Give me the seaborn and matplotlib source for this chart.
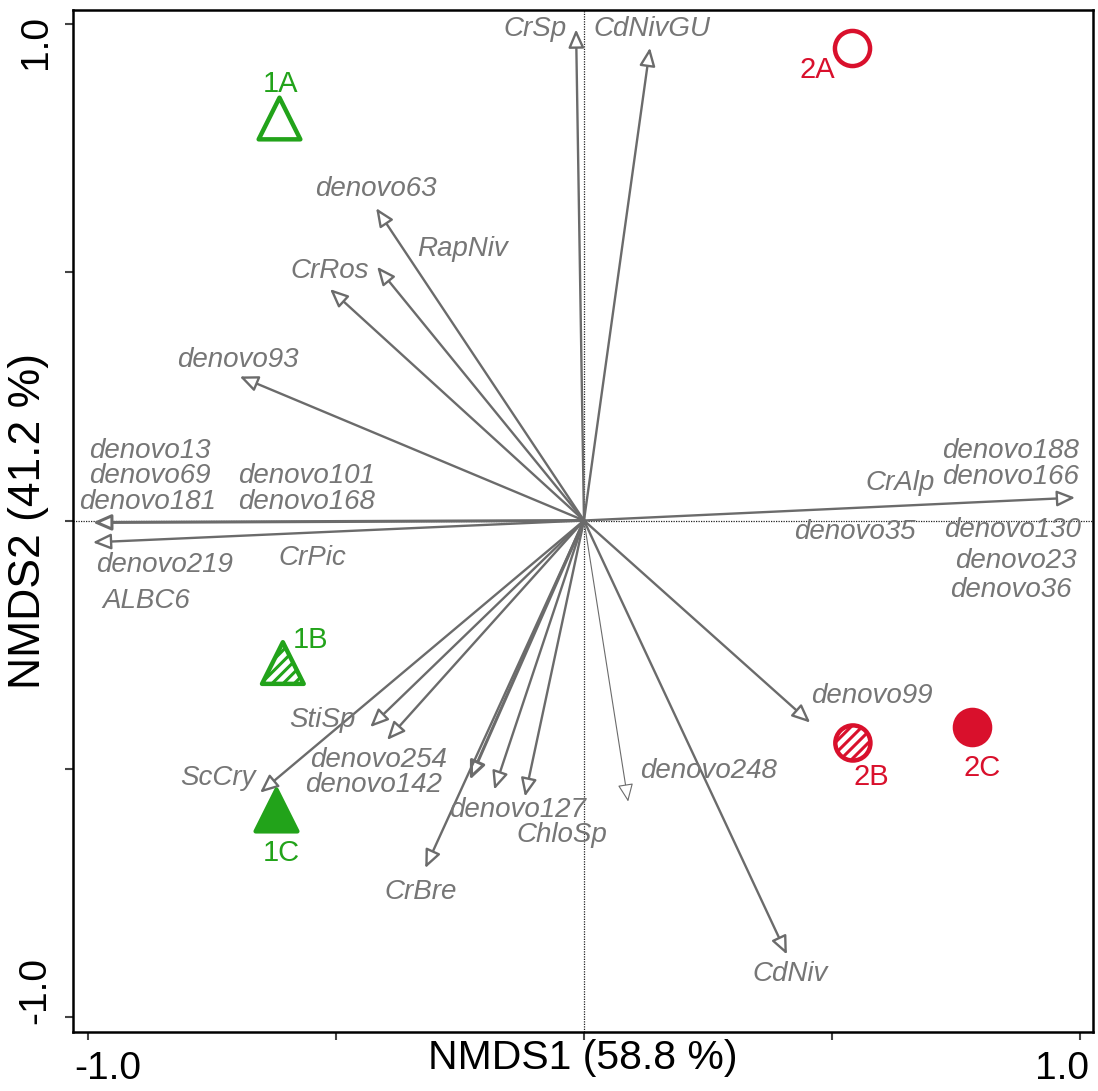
import matplotlib
matplotlib.use("Agg")
import matplotlib.pyplot as plt
import matplotlib.transforms as mtransforms
import pandas as pd
import seaborn as sns

# site scores (NMDS1, NMDS2)
sites = ["1A", "1B", "1C", "2A", "2B", "2C"]
site_x = [-0.615, -0.607, -0.621, 0.540, 0.542, 0.782]
site_y = [0.811, -0.287, -0.583, 0.952, -0.448, -0.416]
site_group = ["1", "1", "1", "2", "2", "2"]
site_fill = ["open", "hatch", "solid", "open", "hatch", "solid"]

# fitted species vectors (arrow tips)
vec_names = ["CrSp", "CdNivGU", "denovo63", "RapNiv", "CrRos", "denovo93",
             "denovo13", "denovo219", "CrAlp", "denovo99", "CdNiv", "denovo248",
             "ChloSp", "denovo127", "denovo142", "CrBre", "denovo254", "StiSp", "ScCry"]
vec_x = [-0.016, 0.133, -0.419, -0.417, -0.512, -0.694,
         -0.990, -0.990, 0.990, 0.456, 0.409, 0.089,
         -0.119, -0.181, -0.230, -0.320, -0.397, -0.431, -0.653]
vec_y = [0.989, 0.952, 0.629, 0.511, 0.466, 0.290,
         -0.004, -0.044, 0.046, -0.407, -0.874, -0.566,
         -0.556, -0.542, -0.522, -0.700, -0.442, -0.416, -0.548]

# species label placement
lab_text = ["CrSp", "CdNivGU", "denovo63", "RapNiv", "CrRos", "denovo93",
            "denovo13", "denovo69", "denovo181", "denovo101", "denovo168",
            "denovo219", "CrPic", "ALBC6",
            "denovo188", "denovo166", "CrAlp", "denovo35", "denovo130", "denovo23", "denovo36",
            "denovo99", "denovo248", "denovo127", "ChloSp", "denovo254", "denovo142",
            "StiSp", "ScCry", "CrBre", "CdNiv"]
lab_x = [-0.099, 0.137, -0.419, -0.244, -0.512, -0.697,
         -0.875, -0.875, -0.879, -0.560, -0.560,
         -0.845, -0.548, -0.883,
         0.859, 0.859, 0.637, 0.546, 0.863, 0.871, 0.861,
         0.581, 0.250, -0.135, -0.044, -0.415, -0.425,
         -0.528, -0.738, -0.329, 0.415]
lab_y = [0.989, 0.989, 0.667, 0.546, 0.502, 0.323,
         0.139, 0.089, 0.038, 0.089, 0.038,
         -0.089, -0.075, -0.163,
         0.139, 0.087, 0.075, -0.024, -0.020, -0.081, -0.139,
         -0.354, -0.505, -0.582, -0.634, -0.483, -0.532,
         -0.401, -0.518, -0.749, -0.914]

sites_df = pd.DataFrame({"NMDS1": site_x, "NMDS2": site_y, "site": sites,
                         "group": site_group, "fill": site_fill})
vec_df = pd.DataFrame({"name": vec_names, "NMDS1": vec_x, "NMDS2": vec_y})

green = "#22a31a"
red = "#d9102c"
grey = "#767676"

sns.set_theme(style="ticks")
plt.rcParams["font.family"] = ["Liberation Sans", "DejaVu Sans"]
plt.rcParams["hatch.linewidth"] = 2.2

fig = plt.figure(figsize=(10.98, 10.91), dpi=100)
ax = fig.add_axes([73 / 1098, 1 - 1032 / 1091, 1020 / 1098, 1022 / 1091])
ax.set_xlim(-1.030, 1.026)
ax.set_ylim(-1.030, 1.028)

ax.axhline(0, color="#222222", lw=0.9, ls=(0, (1, 1)), zorder=1)
ax.axvline(0, color="#222222", lw=0.9, ls=(0, (1, 1)), zorder=1)

# species arrows
lw_special = {"denovo248": 0.8, "denovo13": 2.2, "denovo142": 2.2}
for _, r in vec_df.iterrows():
    ax.annotate("", xy=(r.NMDS1, r.NMDS2), xytext=(0, 0),
                arrowprops=dict(arrowstyle="-|>,head_length=0.55,head_width=0.24",
                                mutation_scale=20, fc="white", ec="#6b6b6b",
                                lw=lw_special.get(r["name"], 1.7),
                                shrinkA=0, shrinkB=0),
                zorder=3)

for t, x, y in zip(lab_text, lab_x, lab_y):
    ax.text(x, y, t, fontsize=20, style="italic", color=grey,
            ha="center", va="center", zorder=4)

# sites
marker_of = {"1": "^", "2": "o"}
color_of = {"1": green, "2": red}
size_of = {"1": 900, "2": 640}
for _, r in sites_df.iterrows():
    col = color_of[r.group]
    face = col if r.fill == "solid" else "white"
    sns.scatterplot(x=[r.NMDS1], y=[r.NMDS2], marker=marker_of[r.group],
                    s=size_of[r.group], facecolor=face, edgecolor=col,
                    linewidth=3.2, ax=ax, zorder=5, legend=False)
    if r.fill == "hatch":
        ax.collections[-1].set_hatch("///")

site_lab_off = {"1A": (0.004, 0.067), "1B": (0.056, 0.046), "1C": (0.010, -0.087),
                "2A": (-0.070, -0.044), "2B": (0.038, -0.068), "2C": (0.020, -0.083)}
for _, r in sites_df.iterrows():
    dx, dy = site_lab_off[r.site]
    ax.text(r.NMDS1 + dx, r.NMDS2 + dy, r.site, fontsize=21,
            color=color_of[r.group], ha="center", va="center", zorder=6)

# axes styling
ax.set_xticks([-1, -0.5, 0, 0.5, 1])
ax.set_xticklabels(["-1.0", "", "", "", "1.0"])
ax.set_yticks([-1, -0.5, 0, 0.5, 1])
ax.set_yticklabels(["-1.0", "", "", "", "1.0"], rotation=90, va="center")
ax.tick_params(direction="out", length=6, width=1.5, color="#444444",
               labelsize=28, labelcolor="black", pad=8)
for s in ax.spines.values():
    s.set_color("black")
    s.set_linewidth(1.8)

shift = {"-1.0x": (0.20, 0), "1.0x": (-0.18, 0), "-1.0y": (0, 0.27), "1.0y": (0, -0.18)}
for lab in ax.get_xticklabels():
    key = lab.get_text() + "x"
    if key in shift:
        lab.set_transform(lab.get_transform() +
                          mtransforms.ScaledTranslation(*shift[key], fig.dpi_scale_trans))
for lab in ax.get_yticklabels():
    key = lab.get_text() + "y"
    if key in shift:
        lab.set_transform(lab.get_transform() +
                          mtransforms.ScaledTranslation(*shift[key], fig.dpi_scale_trans))

ax.set_xlabel("NMDS1 (58.8 %)", fontsize=29.5, color="black")
ax.set_ylabel("NMDS2 (41.2 %)", fontsize=32, color="black")
ax.xaxis.set_label_coords(0.5, -0.007)
ax.yaxis.set_label_coords(-0.024, 0.5)

fig.savefig("out.png", dpi=100)
